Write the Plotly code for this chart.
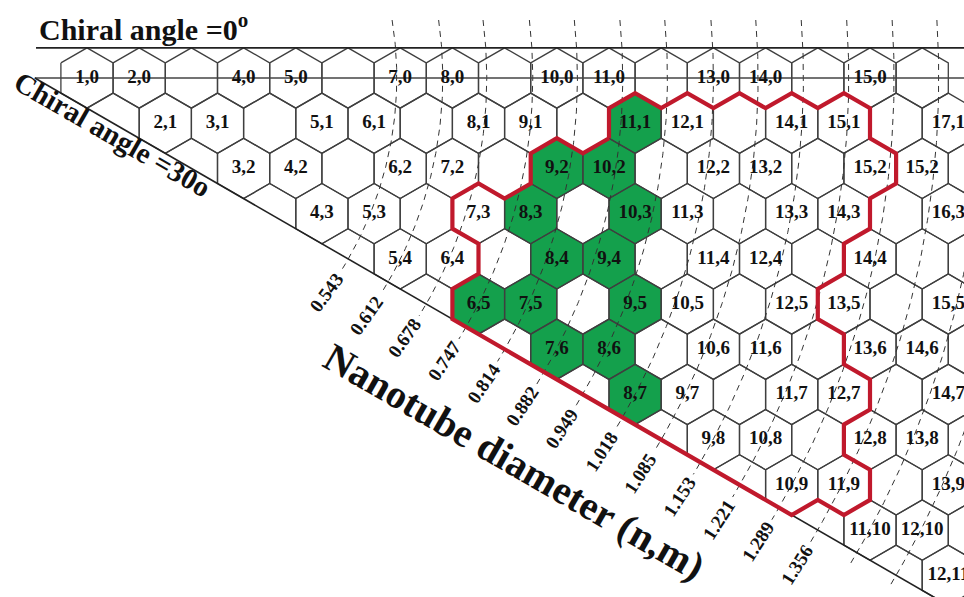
import math
import plotly.graph_objects as go

# ---------------- values ----------------
# labelled (n,m) cells: lattice position and the text printed in them
label_n = [1, 2, 4, 5, 7, 8, 10, 11, 13, 14, 16,
           2, 3, 5, 6, 8, 9, 11, 12, 14, 15, 17,
           3, 4, 6, 7, 9, 10, 12, 13, 15, 16,
           4, 5, 7, 8, 10, 11, 13, 14, 16,
           5, 6, 8, 9, 11, 12, 14,
           6, 7, 9, 10, 12, 13, 15,
           7, 8, 10, 11, 13, 14,
           8, 9, 11, 12, 14,
           9, 10, 12, 13,
           10, 11, 13,
           11, 12,
           12]
label_m = [0] * 11 + [1] * 11 + [2] * 10 + [3] * 9 + [4] * 7 + [5] * 7 + \
          [6] * 6 + [7] * 5 + [8] * 4 + [9] * 3 + [10] * 2 + [11] * 1
label_text = ["1,0", "2,0", "4,0", "5,0", "7,0", "8,0", "10,0", "11,0", "13,0", "14,0", "15,0",
              "2,1", "3,1", "5,1", "6,1", "8,1", "9,1", "11,1", "12,1", "14,1", "15,1", "17,1",
              "3,2", "4,2", "6,2", "7,2", "9,2", "10,2", "12,2", "13,2", "15,2", "15,2",
              "4,3", "5,3", "7,3", "8,3", "10,3", "11,3", "13,3", "14,3", "16,3",
              "5,4", "6,4", "8,4", "9,4", "11,4", "12,4", "14,4",
              "6,5", "7,5", "9,5", "10,5", "12,5", "13,5", "15,5",
              "7,6", "8,6", "10,6", "11,6", "13,6", "14,6",
              "8,7", "9,7", "11,7", "12,7", "14,7",
              "9,8", "10,8", "12,8", "13,8",
              "10,9", "11,9", "13,9",
              "11,10", "12,10",
              "12,11"]

# green (highlighted) cells
green_n = [11, 9, 10, 8, 10, 8, 9, 6, 7, 9, 7, 8, 8]
green_m = [1, 2, 2, 3, 3, 4, 4, 5, 5, 5, 6, 6, 7]

# red boundary: walk along cell corners
boundary_n = [11, 11, 11, 11, 12, 12, 13, 13, 14, 14, 15, 15, 15, 15, 15, 15, 15, 14, 14,
              13, 13, 13, 13, 13, 13, 12, 12, 12, 12, 11, 11, 10, 6, 6, 6, 7, 7, 7, 7, 7,
              9, 9, 9, 9, 11]
boundary_m = [1, 1, 1, 1, 1, 1, 1, 1, 1, 1, 1, 1, 1, 2, 2, 2, 3, 3, 4, 4, 5, 5, 6, 6, 7, 7,
              8, 8, 9, 9, 9, 9, 5, 5, 5, 4, 3, 3, 3, 3, 2, 2, 2, 2, 1]
boundary_corner = ["LL", "UL", "T", "UR", "T", "UR", "T", "UR", "T", "UR", "T", "UR", "LR",
                   "UR", "LR", "B", "LL", "B", "LL", "B", "LL", "B", "LL", "B", "LL", "B",
                   "LL", "B", "LL", "B", "LL", "B", "LL", "UL", "T", "UL", "LL", "UL", "T",
                   "UR", "LL", "UL", "T", "UR", "LL"]

# constant-diameter arcs (nm)
diameter_values = [0.543, 0.612, 0.678, 0.747, 0.814, 0.882, 0.949,
                   1.018, 1.085, 1.153, 1.221, 1.289, 1.356]
diameter_labels = ["0.543", "0.612", "0.678", "0.747", "0.814", "0.882", "0.949",
                   "1.018", "1.085", "1.153", "1.221", "1.289", "1.356"]
extra_arc_values = [1.424, 1.492]   # drawn, not labelled
LATTICE_NM = 0.246

N_ROWS = 12

# ---------------- geometry helpers ----------------
SQ3 = math.sqrt(3.0)
R = 1.0 / SQ3
PX = 52.2                       # pixels per lattice unit
OX, OY = 34.8, 78.0             # pixel position of (0,0)
W, H = 964, 597
CORNER = {"T": (0.0, -R), "UR": (0.5, -R / 2), "LR": (0.5, R / 2),
          "B": (0.0, R), "LL": (-0.5, R / 2), "UL": (-0.5, -R / 2)}


def center(n, m):
    return n + m / 2.0, m * SQ3 / 2.0


def corner(n, m, c):
    cx, cy = center(n, m)
    dx, dy = CORNER[c]
    return cx + dx, cy + dy


def pxd(px, py):
    return (px - OX) / PX, (py - OY) / PX


X_MAX = (W - OX) / PX

# ---------------- build traces ----------------
fig = go.Figure()

# green fills
gx, gy = [], []
for n, m in zip(green_n, green_m):
    for c in ["UL", "T", "UR", "LR", "B", "LL", "UL"]:
        x, y = corner(n, m, c)
        gx.append(x)
        gy.append(y)
    gx.append(None)
    gy.append(None)
fig.add_trace(go.Scatter(x=gx, y=gy, mode="lines", fill="toself",
                         fillcolor="#14a04c", line=dict(width=0, color="#14a04c"),
                         hoverinfo="skip"))

# hexagon grid
hx, hy = [], []
for m in range(N_ROWS):
    n_last = 17 if m == 0 else int(math.floor(18 - m / 2.0))
    for n in range(max(m, 1), n_last + 1):
        if n == m:
            seq = ["UL", "T", "UR", "LR"]
        else:
            seq = ["UL", "T", "UR", "LR", "B", "LL", "UL"]
        for c in seq:
            x, y = corner(n, m, c)
            hx.append(x)
            hy.append(y)
        hx.append(None)
        hy.append(None)
fig.add_trace(go.Scatter(x=hx, y=hy, mode="lines",
                         line=dict(width=1.3, color="#3f3f3f"), hoverinfo="skip"))

# dashed constant-diameter arcs
TOP_EXT = (OY - 20) / PX
BOTTOM_EXT = 14 / PX
ax, ay = [], []
for dval in diameter_values + extra_arc_values:
    r = dval * math.pi / LATTICE_NM
    a0 = -math.asin(min(1.0, TOP_EXT / r))
    a1 = math.pi / 6 + BOTTOM_EXT / r
    steps = 160
    for i in range(steps + 1):
        a = a0 + (a1 - a0) * i / steps
        ax.append(r * math.cos(a))
        ay.append(r * math.sin(a))
    ax.append(None)
    ay.append(None)
fig.add_trace(go.Scatter(x=ax, y=ay, mode="lines",
                         line=dict(width=1, color="#333333", dash="6px,5px"),
                         hoverinfo="skip"))

# main straight lines: top, zig-zag axis (0 deg), armchair axis (30 deg)
y_top = -R
fig.add_trace(go.Scatter(x=[pxd(36, 0)[0], X_MAX + 1], y=[y_top, y_top], mode="lines",
                         line=dict(width=1.6, color="#222222"), hoverinfo="skip"))
fig.add_trace(go.Scatter(x=[0, X_MAX + 1], y=[0, 0], mode="lines",
                         line=dict(width=1.3, color="#444444"), hoverinfo="skip"))
diag_len = 25
fig.add_trace(go.Scatter(x=[0, diag_len * math.cos(math.pi / 6)],
                         y=[0, diag_len * math.sin(math.pi / 6)], mode="lines",
                         line=dict(width=1.6, color="#222222"), hoverinfo="skip"))

# red boundary
bx, by = [], []
for n, m, c in zip(boundary_n, boundary_m, boundary_corner):
    x, y = corner(n, m, c)
    bx.append(x)
    by.append(y)
fig.add_trace(go.Scatter(x=bx, y=by, mode="lines",
                         line=dict(width=4.2, color="#c0192c"), hoverinfo="skip"))

# cell labels
lx, ly = [], []
for n, m in zip(label_n, label_m):
    x, y = center(n, m)
    lx.append(x)
    ly.append(y)
FONT = "Liberation Serif, Times New Roman, serif"
fig.add_trace(go.Scatter(x=lx, y=ly, mode="text", text=label_text,
                         textposition="middle center",
                         textfont=dict(family=FONT, size=19, color="#111111", weight="bold"),
                         hoverinfo="skip"))

annotations = []
# diameter labels
for dval, lab in zip(diameter_values, diameter_labels):
    r = dval * math.pi / LATTICE_NM
    a = math.pi / 6 + (40 / PX) / r
    annotations.append(dict(x=r * math.cos(a), y=r * math.sin(a), xref="x", yref="y",
                            text=lab, showarrow=False, xanchor="center", yanchor="middle",
                            textangle=-(90 - math.degrees(a)),
                            font=dict(family=FONT, size=19, color="#111111", weight="bold")))

tx, ty = pxd(37, 27)
annotations.append(dict(x=tx, y=ty, xref="x", yref="y", text="Chiral angle =0<sup>o</sup>",
                        showarrow=False, xanchor="left", yanchor="middle",
                        font=dict(family=FONT, size=30, color="#111111", weight="bold")))
cx, cy = pxd(112, 134)
annotations.append(dict(x=cx, y=cy, xref="x", yref="y", text="Chiral angle =30o",
                        showarrow=False, xanchor="center", yanchor="middle", textangle=30,
                        font=dict(family=FONT, size=29, color="#111111", weight="bold")))
nx, ny = pxd(514, 461)
annotations.append(dict(x=nx, y=ny, xref="x", yref="y", text="Nanotube diameter (n,m)",
                        showarrow=False, xanchor="center", yanchor="middle", textangle=30,
                        font=dict(family=FONT, size=40, color="#111111", weight="bold")))

x0, y0 = pxd(0, 0)
x1, y1 = pxd(W, H)
fig.update_layout(
    width=W, height=H,
    margin=dict(l=0, r=0, t=0, b=0),
    paper_bgcolor="white", plot_bgcolor="white",
    showlegend=False,
    xaxis=dict(range=[x0, x1], visible=False, fixedrange=True),
    yaxis=dict(range=[y1, y0], visible=False, fixedrange=True),
    annotations=annotations,
)

fig.write_html("out.html",
               config={"displayModeBar": False, "staticPlot": True},
               post_script="document.body.style.margin='0';document.body.style.overflow='hidden';")
